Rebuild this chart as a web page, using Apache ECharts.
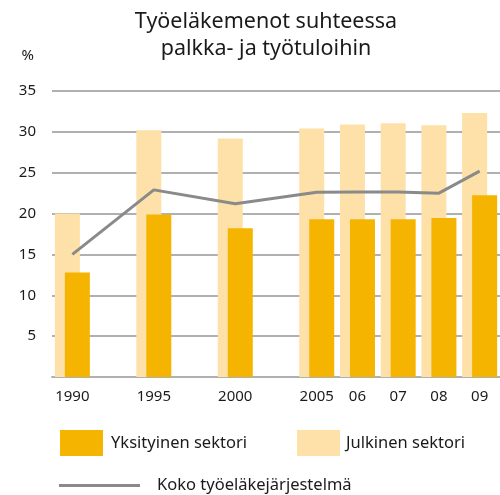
<!DOCTYPE html>
<html>
<head>
<meta charset="utf-8">
<script src="https://cdn.jsdelivr.net/npm/echarts@6/dist/echarts.min.js"></script>
<style>
html, body { margin: 0; padding: 0; background: #fff; }
#chart { width: 500px; height: 495px; }
</style>
</head>
<body>
<div id="chart"></div>
<script>
let years = ['1990', '', '1995', '', '2000', '', '2005', '06', '07', '08', '09'];
let yksityinen = [12.8, null, 19.9, null, 18.2, null, 19.3, 19.3, 19.3, 19.45, 22.25];
let julkinen = [20.0, null, 30.2, null, 29.2, null, 30.4, 30.9, 31.05, 30.8, 32.3];
let koko = [15.0, null, 22.9, null, 21.2, null, 22.6, 22.65, 22.65, 22.5, 25.2];

let FONT = 'Noto Sans';
let myChart = echarts.init(document.getElementById('chart'));

option = {
	animation: false,
	textStyle: { fontFamily: FONT, color: '#1a1a1a' },
	title: {
		text: 'Työeläkemenot suhteessa\npalkka- ja työtuloihin',
		left: 261,
		top: 3,
		textAlign: 'center',
		textStyle: { fontFamily: FONT, fontSize: 21.5, fontWeight: 'normal', color: '#1a1a1a', lineHeight: 27 }
	},
	legend: [
		{
			data: [{ name: 'Yksityinen sektori', icon: 'rect' }],
			left: 55, top: 425,
			itemWidth: 43, itemHeight: 26,
			selectedMode: false,
			textStyle: { fontFamily: FONT, fontSize: 16.5, color: '#1a1a1a', padding: [0, 0, 0, 3] }
		},
		{
			data: [{ name: 'Julkinen sektori', icon: 'rect' }],
			left: 292, top: 425,
			itemWidth: 43, itemHeight: 26,
			selectedMode: false,
			textStyle: { fontFamily: FONT, fontSize: 16.5, color: '#1a1a1a', padding: [0, 0, 0, 1] }
		},
		{
			data: [{ name: 'Koko työeläkejärjestelmä', icon: 'rect' }],
			left: 54, top: 472,
			itemWidth: 81, itemHeight: 3,
			selectedMode: false,
			textStyle: { fontFamily: FONT, fontSize: 16.5, color: '#1a1a1a', padding: [0, 0, 0, 12] }
		}
	],
	grid: { left: 52, right: -10, top: 91, bottom: 118 },
	xAxis: {
		type: 'category',
		data: years,
		axisLine: { lineStyle: { color: '#b0b0b0', width: 2 } },
		axisTick: { show: false },
		axisLabel: { fontFamily: FONT, fontSize: 15, color: '#1a1a1a', margin: 12, interval: 0 }
	},
	yAxis: {
		type: 'value',
		min: 0, max: 35, interval: 5,
		name: '%',
		nameLocation: 'end',
		nameGap: 28,
		nameTextStyle: { fontFamily: FONT, fontSize: 15, color: '#1a1a1a', align: 'right', padding: [0, 18, 0, 0] },
		axisLine: { show: false },
		axisTick: { show: false },
		splitLine: { lineStyle: { color: '#b0b0b0', width: 2 } },
		axisLabel: {
			fontFamily: FONT, fontSize: 15, color: '#1a1a1a', margin: 16,
			formatter: v => v === 0 ? '' : v
		}
	},
	series: [
		{
			name: 'Julkinen sektori',
			type: 'bar',
			data: julkinen,
			barWidth: 25,
			barGap: '-60%',
			itemStyle: { color: '#fde1a8' }
		},
		{
			name: 'Yksityinen sektori',
			type: 'bar',
			data: yksityinen,
			barWidth: 25,
			barGap: '-60%',
			itemStyle: { color: '#f5b400' }
		},
		{
			name: 'Koko työeläkejärjestelmä',
			type: 'line',
			data: koko,
			connectNulls: true,
			symbol: 'none',
			z: 5,
			lineStyle: { color: '#8a8a8a', width: 3 },
			itemStyle: { color: '#8a8a8a' }
		}
	]
};

myChart.setOption(option);
</script>
</body>
</html>
